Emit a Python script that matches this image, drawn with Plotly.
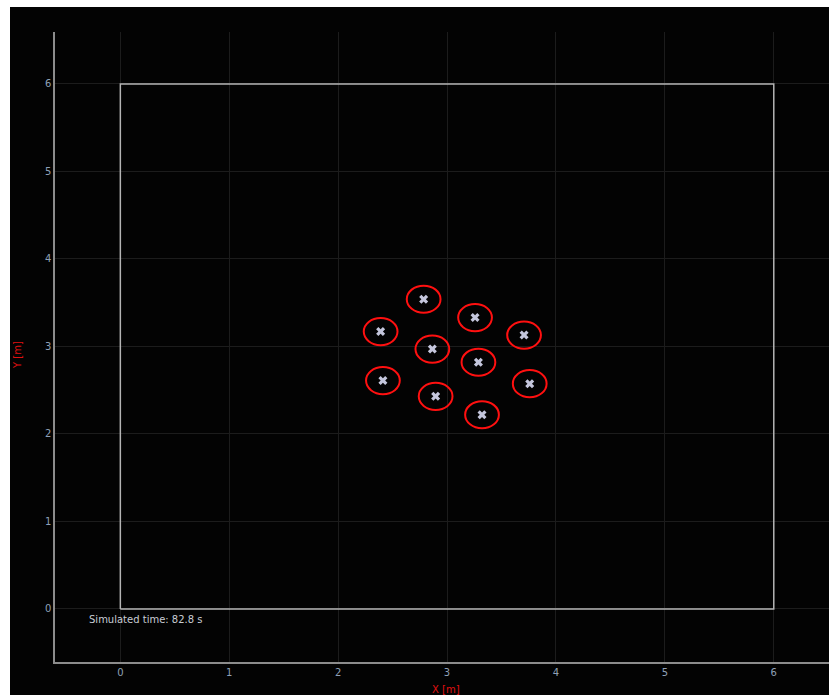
import plotly.graph_objects as go

# Robot positions in the arena [m]
robot_x = [2.785, 3.257, 2.39, 3.707, 2.865, 3.288, 2.411, 3.759, 2.895, 3.321]
robot_y = [3.54, 3.33, 3.17, 3.13, 2.97, 2.82, 2.61, 2.575, 2.43, 2.22]
robot_radius = 0.155

# Arena boundary corners [m]
arena_x = [0, 6, 6, 0, 0]
arena_y = [0, 0, 6, 6, 0]

tick_vals = [0, 1, 2, 3, 4, 5, 6]
sim_time = 82.8

fig = go.Figure()

fig.add_trace(go.Scatter(
    x=arena_x, y=arena_y, mode="lines",
    line=dict(color="#b4b4b4", width=1.5),
    hoverinfo="skip", showlegend=False,
))

fig.add_trace(go.Scatter(
    x=robot_x, y=robot_y, mode="markers",
    marker=dict(symbol="x", size=8, color="#c4c6dc", line=dict(width=0)),
    showlegend=False,
))

shapes = [
    # dark canvas behind the figure
    dict(type="rect", xref="paper", yref="paper",
         x0=(10 - 55) / 774, x1=1.0, y0=(662 - 695) / 630, y1=(662 - 7) / 630,
         fillcolor="#030303", line=dict(width=0), layer="below"),
]
for cx, cy in zip(robot_x, robot_y):
    shapes.append(dict(
        type="circle", xref="x", yref="y",
        x0=cx - robot_radius, x1=cx + robot_radius,
        y0=cy - robot_radius, y1=cy + robot_radius,
        line=dict(color="#ff1010", width=2),
    ))

axis_common = dict(
    tickvals=tick_vals,
    showgrid=True, gridcolor="#1c1c1c", gridwidth=1,
    zeroline=False,
    showline=True, linecolor="#8c8c8c", linewidth=1.5,
    ticks="",
    tickfont=dict(family="DejaVu Sans", size=10, color="#8fa0b6"),
)

fig.update_layout(
    width=829, height=695,
    margin=dict(l=55, r=0, t=32, b=33),
    paper_bgcolor="#ffffff",
    plot_bgcolor="#030303",
    shapes=shapes,
    xaxis=dict(range=[-0.6, 6.507], **axis_common),
    yaxis=dict(range=[-0.606, 6.594], **axis_common),
    annotations=[
        dict(text="X [m]", xref="paper", yref="paper",
             x=(446 - 55) / 774, y=(662 - 689) / 630,
             xanchor="center", yanchor="middle", showarrow=False,
             font=dict(family="DejaVu Sans", size=10, color="#e01010")),
        dict(text="Y [m]", xref="paper", yref="paper",
             x=(17 - 55) / 774, y=(662 - 355) / 630, textangle=-90,
             xanchor="center", yanchor="middle", showarrow=False,
             font=dict(family="DejaVu Sans", size=10, color="#e01010")),
        dict(text=f"Simulated time: {sim_time} s", xref="x", yref="y",
             x=-0.31, y=-0.125, xanchor="left", yanchor="middle",
             showarrow=False,
             font=dict(family="DejaVu Sans", size=10, color="#c8ccd4")),
    ],
)

fig.write_html("out.html")
